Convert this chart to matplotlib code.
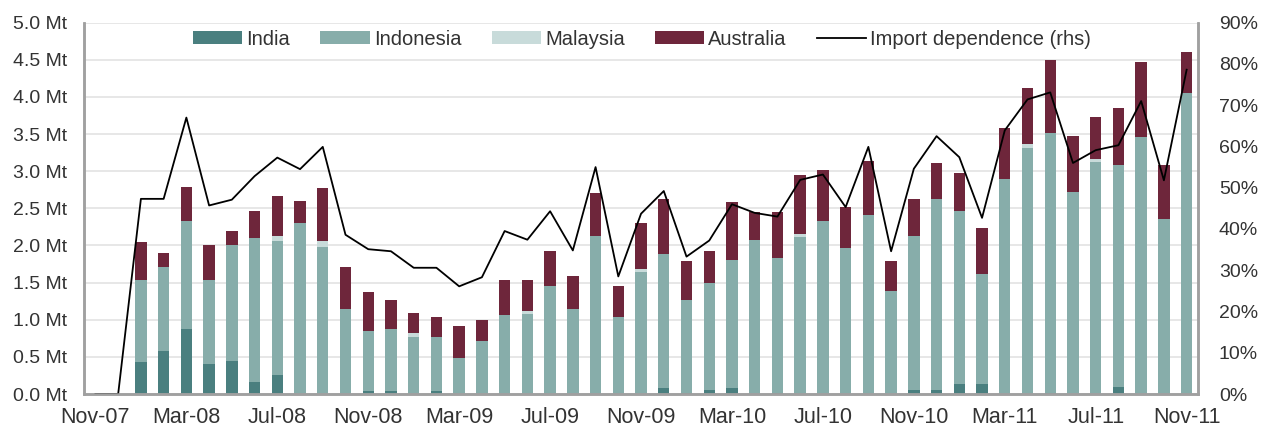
import numpy as np
import pandas as pd
import matplotlib.pyplot as plt

plt.rcParams['font.family'] = ['Liberation Sans', 'DejaVu Sans']

months = pd.date_range('2007-11-01', '2011-11-01', freq='MS').strftime('%b-%y').tolist()

# stacked segments, Mt
india = [0, 0, 0.43, 0.58, 0.88, 0.40, 0.45, 0.16, 0.26, 0, 0, 0, 0.04, 0.04, 0, 0.04, 0, 0, 0, 0,
         0, 0, 0, 0, 0, 0.08, 0.01, 0.05, 0.08, 0, 0.01, 0, 0, 0, 0, 0, 0.06, 0.06, 0.13, 0.13,
         0, 0, 0.01, 0, 0, 0.10, 0, 0, 0]
indonesia = [0, 0, 1.11, 1.13, 1.45, 1.14, 1.55, 1.94, 1.80, 2.30, 1.98, 1.14, 0.81, 0.84, 0.77, 0.73,
             0.48, 0.72, 1.07, 1.08, 1.46, 1.14, 2.13, 1.04, 1.64, 1.81, 1.26, 1.44, 1.73, 2.08, 1.82,
             2.11, 2.33, 1.96, 2.41, 1.39, 2.07, 2.56, 2.34, 1.48, 2.90, 3.31, 3.50, 2.72, 3.13, 2.99,
             3.46, 2.35, 4.05]
malaysia = [0, 0, 0, 0, 0, 0, 0, 0, 0.07, 0, 0.08, 0, 0, 0, 0.05, 0, 0, 0, 0, 0.04, 0, 0, 0, 0, 0.05,
            0, 0, 0, 0, 0, 0, 0.05, 0, 0, 0, 0, 0, 0, 0, 0, 0, 0.05, 0, 0, 0.03, 0, 0, 0, 0]
australia = [0, 0, 0.51, 0.19, 0.46, 0.46, 0.20, 0.37, 0.54, 0.30, 0.71, 0.57, 0.53, 0.38, 0.27, 0.27,
             0.44, 0.27, 0.47, 0.42, 0.47, 0.45, 0.57, 0.42, 0.61, 0.73, 0.52, 0.44, 0.77, 0.37, 0.62,
             0.79, 0.68, 0.56, 0.73, 0.40, 0.49, 0.49, 0.50, 0.62, 0.68, 0.76, 0.99, 0.76, 0.57, 0.76,
             1.01, 0.74, 0.55]
# import dependence, %
dependence = [0, 0, 47.3, 47.3, 67.0, 45.7, 47.1, 52.8, 57.3, 54.5, 59.9, 38.6, 35.1, 34.6, 30.6, 30.6,
              26.1, 28.3, 39.5, 37.4, 44.3, 34.8, 55.0, 28.5, 43.7, 49.2, 33.3, 37.2, 46.0, 43.9, 43.0,
              51.9, 53.2, 45.3, 59.9, 34.6, 54.6, 62.5, 57.4, 42.7, 63.9, 71.4, 73.1, 56.0, 59.1, 60.3,
              71.0, 51.8, 78.6]

series = [('India', india, '#4a7f7f'),
          ('Indonesia', indonesia, '#87adaa'),
          ('Malaysia', malaysia, '#c8dbda'),
          ('Australia', australia, '#6e263b')]

x = np.arange(len(months))
txt = '#333333'

fig = plt.figure(figsize=(12.68, 4.28), dpi=100)
ax = fig.add_axes([0.0663, 0.0794, 0.8785, 0.8676])
ax2 = ax.twinx()

bottom = np.zeros(len(x))
handles = []
for name, vals, col in series:
    vals = np.array(vals)
    b = ax.bar(x, vals, 0.5, bottom=bottom, color=col, label=name, zorder=2)
    handles.append(b)
    bottom += vals

ln, = ax2.plot(x, dependence, color='black', lw=1.3, label='Import dependence (rhs)')
handles.append(ln)

ax.set_xlim(-0.5, 48.5)
ax.set_ylim(0, 5)
ax2.set_ylim(0, 90)
ax.set_yticks(np.arange(0, 5.01, 0.5))
ax.set_yticklabels([f'{v:.1f} Mt' for v in np.arange(0, 5.01, 0.5)])
ax2.set_yticks(np.arange(0, 91, 10))
ax2.set_yticklabels([f'{v}%' for v in range(0, 91, 10)])
ax.set_xticks(x[::4])
ax.set_xticklabels(months[::4])

ax.yaxis.grid(True, color='#e3e3e3', lw=1.2)
ax.set_axisbelow(True)

for a in (ax, ax2):
    a.tick_params(length=0, labelsize=14, colors=txt)
    a.spines['top'].set_visible(False)
    for s in ('left', 'right', 'bottom'):
        a.spines[s].set_color('#a0a0a0')
        a.spines[s].set_linewidth(1.8)
ax.tick_params(axis='y', pad=12)
ax.tick_params(axis='x', pad=9, labelsize=15.5)
ax2.tick_params(axis='y', pad=15)

ax.legend(handles=handles, labels=[h.get_label() for h in handles], ncol=5, frameon=False,
          loc='upper center', bbox_to_anchor=(0.501, 1.03), fontsize=14.5, labelcolor=txt,
          handlelength=2.45, handleheight=0.6, columnspacing=1.5, handletextpad=0.2)

fig.savefig('out.png', dpi=100)
